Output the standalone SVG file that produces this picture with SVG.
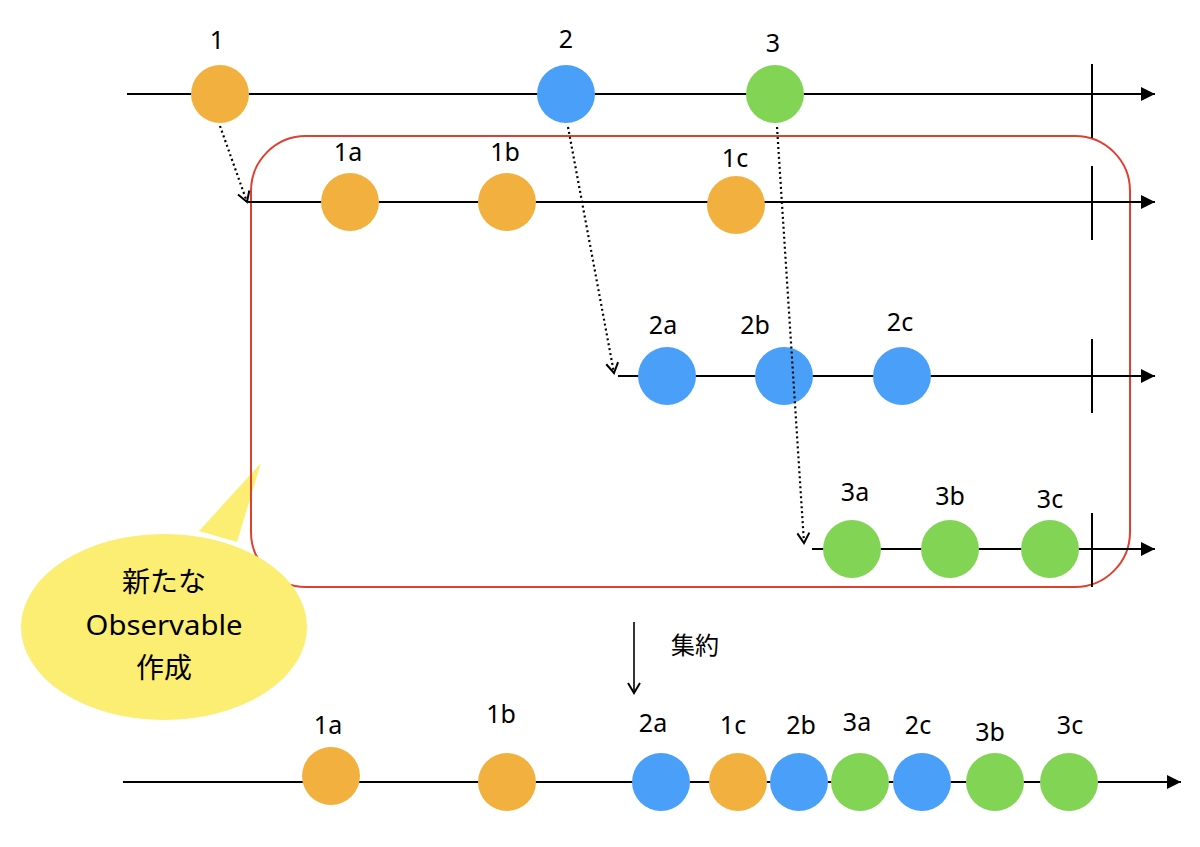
<svg xmlns="http://www.w3.org/2000/svg" width="1200" height="847" viewBox="0 0 1200 847">
<defs>
<style>
.line{stroke:#000;stroke-width:2;fill:none}
.tick{stroke:#000;stroke-width:2}
.dot{stroke:#000;stroke-width:2.2;stroke-dasharray:2 3;fill:none}
.o{fill:#F2B13E}
.b{fill:#4AA0F8}
.g{fill:#82D454}
.lbl{font-family:"Noto Sans","Liberation Sans","Noto Sans CJK JP",sans-serif;font-size:25px;fill:#000;text-anchor:middle}
.jp{font-family:"Noto Sans CJK JP","Noto Sans",sans-serif;fill:#000;text-anchor:middle}
</style>
<marker id="tri" markerUnits="userSpaceOnUse" markerWidth="16" markerHeight="16" viewBox="-15 -8 16 16" refX="0" refY="0" orient="auto">
<path d="M-14,-7 L0,0 L-14,7 Z" fill="#000"/>
</marker>
<marker id="vee" markerUnits="userSpaceOnUse" markerWidth="16" markerHeight="16" viewBox="-12 -8 14 16" refX="0" refY="0" orient="auto">
<path d="M-10,-6 L0,0 L-10,6" fill="none" stroke="#000" stroke-width="2"/>
</marker>
</defs>
<rect width="1200" height="847" fill="#fff"/>

<g id="bubble-tail">
<polygon points="199,531 261,463 237,542" fill="#FCEE72"/>
</g>

<g id="new-observable-frame">
<rect x="251" y="136" width="879" height="451" rx="55" ry="55" fill="none" stroke="#E0402F" stroke-width="2"/>
</g>

<g id="bubble">
<ellipse cx="164" cy="627" rx="143" ry="93" fill="#FCEE72"/>
<text class="jp" x="164" y="592" font-size="28">新たな</text>
<text class="lbl" x="164" y="635" style="font-size:28px" textLength="157" lengthAdjust="spacingAndGlyphs">Observable</text>
<text class="jp" x="164" y="678" font-size="28">作成</text>
</g>

<g id="timelines">
<line class="line" x1="127" y1="94" x2="1155" y2="94" marker-end="url(#tri)"/>
<line class="line" x1="248" y1="202" x2="1155" y2="202" marker-end="url(#tri)"/>
<line class="line" x1="618" y1="376" x2="1155" y2="376" marker-end="url(#tri)"/>
<line class="line" x1="812" y1="549" x2="1155" y2="549" marker-end="url(#tri)"/>
<line class="line" x1="123" y1="782" x2="1181" y2="782" marker-end="url(#tri)"/>
<line class="tick" x1="1092" y1="64" x2="1092" y2="138"/>
<line class="tick" x1="1092" y1="166" x2="1092" y2="240"/>
<line class="tick" x1="1092" y1="339" x2="1092" y2="413"/>
<line class="tick" x1="1092" y1="513" x2="1092" y2="587"/>
<line x1="634" y1="622" x2="634" y2="693" stroke="#000" stroke-width="1.6" marker-end="url(#vee)"/>
<text class="jp" x="695" y="654" font-size="24">集約</text>
</g>

<g id="n1"><circle class="o" cx="220" cy="94" r="29"/><text class="lbl" x="217" y="49">1</text></g>
<g id="n2"><circle class="b" cx="566" cy="94" r="29"/><text class="lbl" x="566" y="48">2</text></g>
<g id="n3"><circle class="g" cx="775" cy="94" r="29"/><text class="lbl" x="773" y="52">3</text></g>

<g id="n1a"><circle class="o" cx="350" cy="202" r="29"/><text class="lbl" x="348" y="161">1a</text></g>
<g id="n1b"><circle class="o" cx="507" cy="202" r="29"/><text class="lbl" x="505" y="161">1b</text></g>
<g id="n1c"><circle class="o" cx="736" cy="205" r="29"/><text class="lbl" x="735" y="167">1c</text></g>

<g id="n2a"><circle class="b" cx="667" cy="376" r="29"/><text class="lbl" x="663" y="334">2a</text></g>
<g id="n2b"><circle class="b" cx="784" cy="376" r="29"/><text class="lbl" x="755" y="334">2b</text></g>
<g id="n2c"><circle class="b" cx="902" cy="376" r="29"/><text class="lbl" x="900" y="331">2c</text></g>

<g id="n3a"><circle class="g" cx="852" cy="549" r="29"/><text class="lbl" x="855" y="501">3a</text></g>
<g id="n3b"><circle class="g" cx="950" cy="549" r="29"/><text class="lbl" x="950" y="505">3b</text></g>
<g id="n3c"><circle class="g" cx="1050" cy="549" r="29"/><text class="lbl" x="1050" y="508">3c</text></g>

<g id="m1a"><circle class="o" cx="331" cy="776" r="29"/><text class="lbl" x="328" y="734">1a</text></g>
<g id="m1b"><circle class="o" cx="507" cy="782" r="29"/><text class="lbl" x="501" y="723">1b</text></g>
<g id="m2a"><circle class="b" cx="661" cy="782" r="29"/><text class="lbl" x="653" y="732">2a</text></g>
<g id="m1c"><circle class="o" cx="738" cy="782" r="29"/><text class="lbl" x="733" y="734">1c</text></g>
<g id="m2b"><circle class="b" cx="799" cy="782" r="29"/><text class="lbl" x="801" y="734">2b</text></g>
<g id="m3a"><circle class="g" cx="860" cy="782" r="29"/><text class="lbl" x="857" y="731">3a</text></g>
<g id="m2c"><circle class="b" cx="922" cy="782" r="29"/><text class="lbl" x="918" y="734">2c</text></g>
<g id="m3b"><circle class="g" cx="995" cy="782" r="29"/><text class="lbl" x="990" y="741">3b</text></g>
<g id="m3c"><circle class="g" cx="1069" cy="782" r="29"/><text class="lbl" x="1070" y="734">3c</text></g>

<g id="connectors">
<line class="dot" x1="220" y1="126" x2="247" y2="202" marker-end="url(#vee)"/>
<line class="dot" x1="568" y1="127" x2="614" y2="373" marker-end="url(#vee)"/>
<line class="dot" x1="777" y1="127" x2="804" y2="543" marker-end="url(#vee)"/>
</g>
</svg>
